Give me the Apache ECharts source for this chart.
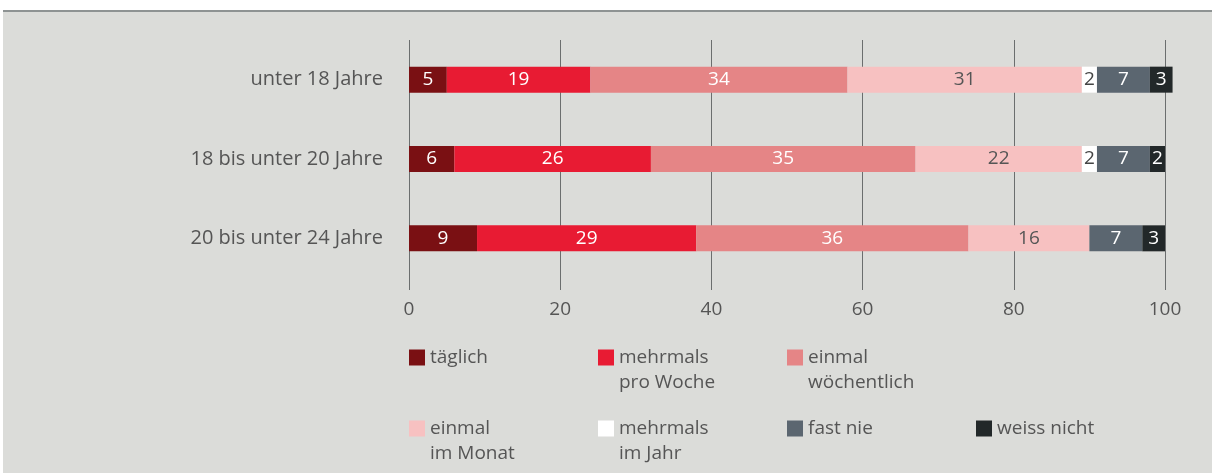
<!DOCTYPE html>
<html>
<head>
<meta charset="utf-8">
<script src="https://cdn.jsdelivr.net/npm/echarts@6/dist/echarts.min.js"></script>
<style>
  html, body { margin: 0; padding: 0; background: #ffffff; }
  #chart { width: 1212px; height: 473px; }
</style>
</head>
<body>
<div id="chart"></div>
<script>
// Age groups (rows, top to bottom)
const categories = ['unter 18 Jahre', '18 bis unter 20 Jahre', '20 bis unter 24 Jahre'];

// Frequency answers, in stacking order
const seriesNames = [
  'täglich',
  'mehrmals\npro Woche',
  'einmal\nwöchentlich',
  'einmal\nim Monat',
  'mehrmals\nim Jahr',
  'fast nie',
  'weiss nicht'
];

// Shares in percent per age group
const taeglich        = [5, 6, 9];
const mehrmalsWoche   = [19, 26, 29];
const einmalWoche     = [34, 35, 36];
const einmalMonat     = [31, 22, 16];
const mehrmalsJahr    = [2, 2, 0];
const fastNie         = [7, 7, 7];
const weissNicht      = [3, 2, 3];

const xTicks = [0, 20, 40, 60, 80, 100];

const values = [taeglich, mehrmalsWoche, einmalWoche, einmalMonat, mehrmalsJahr, fastNie, weissNicht];
const colors = ['#7a1013', '#e81b33', '#e58586', '#f7c1c1', '#ffffff', '#5b6670', '#222829'];
const labelColors = ['#ffffff', '#ffffff', '#ffffff', '#555555', '#444444', '#ffffff', '#ffffff'];

const FONT = '"Open Sans", sans-serif';
const TEXT = '#555555';

const chart = echarts.init(document.getElementById('chart'), null, { renderer: 'canvas' });

const series = seriesNames.map((name, i) => ({
  name,
  type: 'bar',
  stack: 'total',
  barWidth: 26,
  clip: false,
  itemStyle: { color: colors[i] },
  label: {
    show: true,
    position: 'inside',
    color: labelColors[i],
    fontFamily: FONT,
    fontSize: 19,
    formatter: p => (p.value > 0 ? String(p.value) : '')
  },
  emphasis: { disabled: true },
  data: values[i]
}));

// Legend text: blank first line so the marker lines up with the first text line
const legendFormatter = name => {
  const parts = name.split('\n');
  return ' \n' + parts[0] + '\n' + (parts[1] || ' ');
};

const legendBase = {
  left: 409,
  padding: 0,
  orient: 'horizontal',
  itemWidth: 16,
  itemHeight: 16,
  itemGap: 18,
  icon: 'rect',
  selectedMode: false,
  formatter: legendFormatter,
  textStyle: {
    color: TEXT,
    fontFamily: FONT,
    fontSize: 19,
    lineHeight: 25,
    width: 150
  }
};

chart.setOption({
  backgroundColor: 'transparent',
  animation: false,
  graphic: [
    {
      type: 'rect',
      shape: { x: 3, y: 11, width: 1209, height: 462 },
      style: { fill: '#dbdcd9' },
      z: -10
    },
    {
      type: 'line',
      shape: { x1: 3, y1: 11, x2: 1212, y2: 11 },
      style: { stroke: '#8e9393', lineWidth: 2 },
      z: -9
    }
  ],
  grid: { left: 409, right: 47, top: 40, height: 238 },
  xAxis: {
    type: 'value',
    min: 0,
    max: 100,
    interval: 20,
    axisLine: { show: false },
    axisTick: { show: true, length: 12, lineStyle: { color: '#6b6e6e', width: 1 } },
    splitLine: { show: true, lineStyle: { color: '#6b6e6e', width: 1 } },
    axisLabel: {
      margin: 22,
      color: TEXT,
      fontFamily: FONT,
      fontSize: 19,
      formatter: v => (xTicks.includes(v) ? String(v) : '')
    }
  },
  yAxis: {
    type: 'category',
    data: categories,
    inverse: true,
    axisLine: { show: false },
    axisTick: { show: false },
    axisLabel: {
      margin: 26,
      color: TEXT,
      fontFamily: FONT,
      fontSize: 20
    }
  },
  legend: [
    Object.assign({}, legendBase, { top: 320, data: seriesNames.slice(0, 3) }),
    Object.assign({}, legendBase, { top: 391, data: seriesNames.slice(3) })
  ],
  series
});
</script>
</body>
</html>
